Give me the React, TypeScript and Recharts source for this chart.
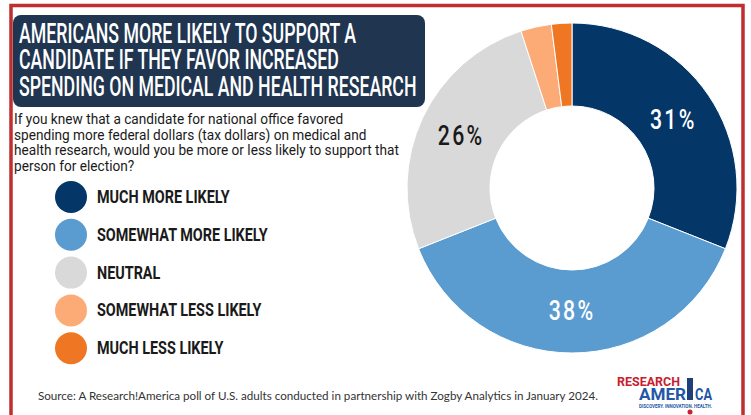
import { PieChart, Pie, Cell } from 'recharts';

const categories = ['MUCH MORE LIKELY', 'SOMEWHAT MORE LIKELY', 'NEUTRAL', 'SOMEWHAT LESS LIKELY', 'MUCH LESS LIKELY'];
const shares = [31, 38, 26, 3, 2];
const sliceColors = ['#043668', '#5a9bd0', '#d9d9d9', '#fcab76', '#ef7623'];
const labelColors = ['#ffffff', '#ffffff', '#1a1a1a', '#1a1a1a', '#1a1a1a'];

const titleLines = [
  'AMERICANS MORE LIKELY TO SUPPORT A',
  'CANDIDATE IF THEY FAVOR INCREASED',
  'SPENDING ON MEDICAL AND HEALTH RESEARCH',
];
const questionLines = [
  'If you knew that a candidate for national office favored',
  'spending more federal dollars (tax dollars) on medical and',
  'health research, would you be more or less likely to support that',
  'person for election?',
];
const sourceNote = 'Source:  A Research!America poll of U.S. adults conducted in partnership with Zogby Analytics in January 2024.';

const pieData = categories.map((name, i) => ({ name, value: shares[i] }));

const RADIAN = Math.PI / 180;

function renderPct(props: any) {
  const { cx, cy, midAngle, innerRadius, outerRadius, value, index } = props;
  if (value < 10) return null;
  const r = (innerRadius + outerRadius) / 2 - 1;
  const x = cx + r * Math.cos(-midAngle * RADIAN);
  const y = cy + r * Math.sin(-midAngle * RADIAN);
  return (
    <g transform={`translate(${x},${y}) scale(0.76,1)`}>
      <text
        x={0}
        y={0}
        textAnchor="middle"
        dominantBaseline="central"
        fill={labelColors[index]}
        fontFamily="Roboto"
        fontWeight={500}
        fontSize={28}
        letterSpacing={3}
      >
        {value}%
      </text>
    </g>
  );
}

function Backdrop() {
  return (
    <svg width={751} height={415} style={{ position: 'absolute', left: 0, top: 0 }}>
      <rect x={0} y={0} width={751} height={415} fill="#ffffff" />
      <rect x={11} y={5.5} width={732} height={430} fill="none" stroke="#bf2f2f" strokeWidth={3.5} />

      <rect x={13} y={15} width={412} height={92} rx={8} fill="#1f3550" />
      <g transform="translate(19,0) scale(0.633,1)">
        {titleLines.map((t, i) => (
          <text key={t} x={0} y={43 + i * 26.5} fill="#ffffff" fontFamily="Roboto" fontWeight={500} fontSize={28}>
            {t}
          </text>
        ))}
      </g>

      <g transform="translate(14,0) scale(0.91,1)">
        {questionLines.map((t, i) => (
          <text key={t} x={0} y={124 + i * 15.7} fill="#1a1a1a" fontFamily="Roboto" fontSize={15}>
            {t}
          </text>
        ))}
      </g>

      {categories.map((c, i) => (
        <g key={c}>
          <circle cx={71} cy={197 + i * 37.8} r={16} fill={sliceColors[i]} />
          <g transform={`translate(97,${203 + i * 37.8}) scale(0.8,1)`}>
            <text x={0} y={0} fill="#1a1a1a" fontFamily="Roboto" fontWeight={700} fontSize={18}>
              {c}
            </text>
          </g>
        </g>
      ))}

      <text x={38} y={400} textLength={560} lengthAdjust="spacingAndGlyphs" fill="#333333" fontFamily="Lato" fontSize={12}>
        {sourceNote}
      </text>

      <text x={617} y={385.5} textLength={63} lengthAdjust="spacingAndGlyphs" fill="#c8202f" fontFamily="Roboto" fontWeight={700} fontSize={13.5}>
        RESEARCH
      </text>
      <rect x={687} y={378} width={6} height={22} fill="#1f3f7a" />
      <text x={639} y={400} textLength={47} lengthAdjust="spacingAndGlyphs" fill="#2456a6" fontFamily="Roboto" fontWeight={700} fontSize={17}>
        AMER
      </text>
      <text x={695} y={400} textLength={17} lengthAdjust="spacingAndGlyphs" fill="#2456a6" fontFamily="Roboto" fontWeight={700} fontSize={17}>
        CA
      </text>
      <text x={639} y={408} textLength={73} lengthAdjust="spacingAndGlyphs" fill="#2456a6" fontFamily="Roboto" fontWeight={700} fontSize={4.5}>
        DISCOVERY. INNOVATION. HEALTH.
      </text>
      <circle cx={690} cy={412} r={2.5} fill="#c8202f" />
    </svg>
  );
}

export default function App() {
  return (
    <div style={{ position: 'absolute', left: 0, top: 0, width: 751, height: 415, background: '#fff' }}>
      <Backdrop />
      <div style={{ position: 'absolute', left: 0, top: 0 }}>
        <PieChart width={751} height={415} margin={{ top: 0, right: 0, bottom: 0, left: 0 }}>
          <Pie
            data={pieData}
            dataKey="value"
            nameKey="name"
            cx={572}
            cy={188}
            innerRadius={82}
            outerRadius={165}
            startAngle={90}
            endAngle={-270}
            stroke="#ffffff"
            strokeWidth={1}
            label={renderPct}
            labelLine={false}
            isAnimationActive={false}
          >
            {pieData.map((d, i) => (
              <Cell key={d.name} fill={sliceColors[i]} />
            ))}
          </Pie>
        </PieChart>
      </div>
    </div>
  );
}
